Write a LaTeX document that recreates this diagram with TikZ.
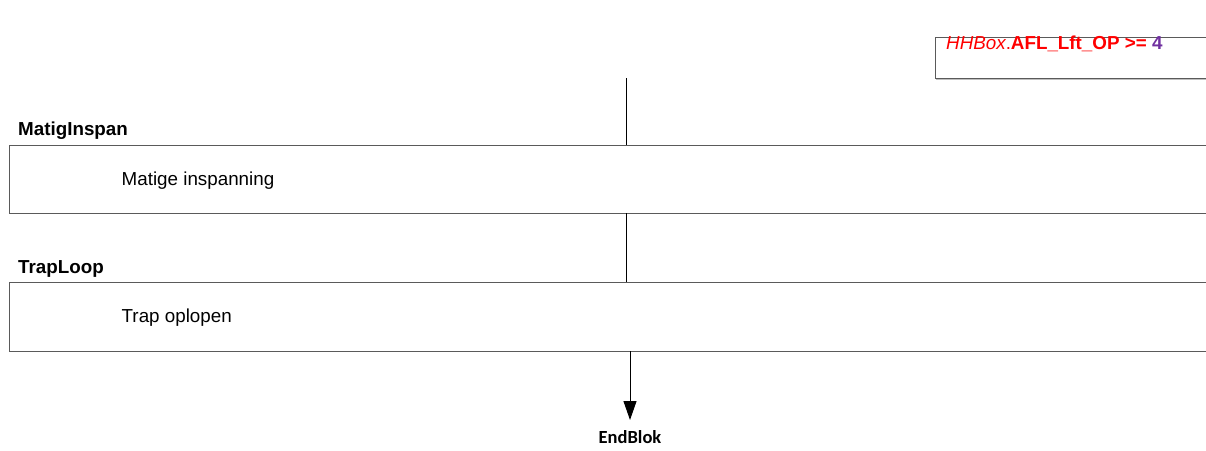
\documentclass[tikz,border=0pt]{standalone}
\usepackage{fontspec}
\setmainfont{Liberation Sans}
\newfontfamily\calibri{Carlito}
\usetikzlibrary{arrows.meta}
\definecolor{boxgray}{RGB}{90,90,90}
\definecolor{cpurple}{RGB}{112,48,160}
\tikzset{
  qbox/.style={draw=boxgray, line width=1pt},
  lbl/.style={anchor=base west, inner sep=0pt, font=\fontsize{18.8}{22}\selectfont\bfseries},
  txt/.style={anchor=base west, inner sep=0pt, font=\fontsize{18.8}{22}\selectfont},
  flow/.style={draw=black, line width=1pt}
}
\begin{document}
\begin{tikzpicture}[x=1pt,y=-1pt]
\useasboundingbox (0,0) rectangle (1206,450);
% condition box
\draw[qbox] (935,37) -- (1210,37);
\draw[qbox] (935,37) -- (935,78) -- (1210,78);
\draw[gray!50, line width=1pt] (936,79.5) -- (1210,79.5);
\node[txt, text=red] (cond) at (946,49) {\textit{HHBox}.\textbf{AFL\_Lft\_OP >=} \textcolor{cpurple}{\textbf{4}}};
% question 1
\node[lbl] (l1) at (18,135) {MatigInspan};
\draw[qbox] (1210,145) -- (9,145) -- (9,213) -- (1210,213);
\node[txt] (t1) at (121.5,185) {Matige inspanning};
% question 2
\node[lbl] (l2) at (18,273) {TrapLoop};
\draw[qbox] (1210,282) -- (9,282) -- (9,351) -- (1210,351);
\node[txt] (t2) at (121.5,322.5) {Trap oplopen};
% connectors
\coordinate (a0) at (626,78);
\coordinate (a1) at (626,145);
\coordinate (b0) at (626,213);
\coordinate (b1) at (626,282);
\coordinate (c0) at (630,351);
\node[inner sep=0pt, font=\calibri\fontsize{18.5}{20}\selectfont\bfseries] (end) at (630,437) {EndBlok};
\draw[flow] (a0) -- (a1);
\draw[flow] (b0) -- (b1);
\draw[flow, -{Triangle[width=13pt,length=19pt]}] (c0) -- (630,420);
\end{tikzpicture}
\end{document}
